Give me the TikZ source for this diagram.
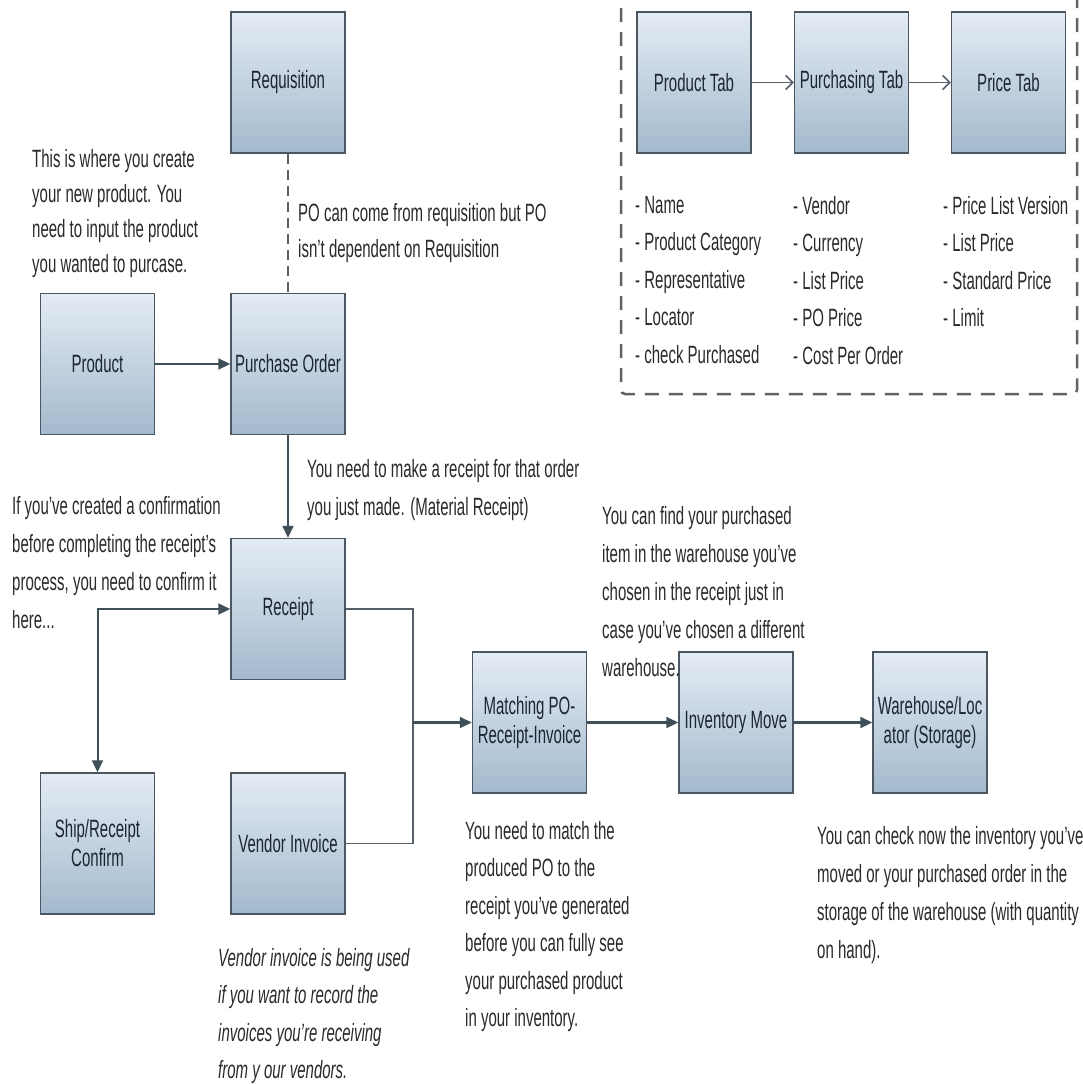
\documentclass[tikz,border=0pt]{standalone}
\usepackage{fontspec}
\setmainfont{Liberation Sans}[FakeStretch=0.6]
\usetikzlibrary{arrows.meta}

\definecolor{boxtop}{HTML}{E4ECF4}
\definecolor{boxbot}{HTML}{A3B9CD}
\definecolor{boxline}{HTML}{4B5660}
\definecolor{boxtext}{HTML}{1C2533}
\definecolor{notetext}{HTML}{2A2A2A}
\definecolor{arrowc}{HTML}{3E4F58}
\definecolor{thinc}{HTML}{55606A}
\definecolor{dashc}{HTML}{5E6468}

\tikzset{
  flowbox/.style={draw=boxline, line width=1.5pt, top color=boxtop, bottom color=boxbot,
    minimum width=114pt, minimum height=141pt, inner sep=0pt, align=center,
    text=boxtext, font=\fontsize{25}{29}\selectfont},
  note/.style={align=left, anchor=north west, inner sep=0pt, text=notetext,
    font=\fontsize{25}{37.5}\selectfont},
  tip/.style={Triangle[length=12pt,width=11pt]},
  flow/.style={draw=arrowc, line width=2.2pt, -{Triangle[length=12pt,width=11pt]}},
  twoway/.style={draw=arrowc, line width=2pt, {Triangle[length=12pt,width=11pt]}-{Triangle[length=12pt,width=11pt]}},
  joinline/.style={draw=thinc, line width=1.3pt},
  optline/.style={draw=thinc, line width=1.2pt, dash pattern=on 10pt off 6pt},
  tabarrow/.style={draw=thinc, line width=1.5pt, -{Straight Barb[length=7pt,width=14pt]}},
  groupframe/.style={draw=dashc, line width=2.5pt, dash pattern=on 14pt off 10pt, rounded corners=4pt},
}

\begin{document}
\begin{tikzpicture}[x=1pt, y=-1pt]
\useasboundingbox[fill=white] (0,0) rectangle (1083,1084);

% process boxes
\node[flowbox] (req)   at (288,82.5)   {Requisition};
\node[flowbox] (prod)  at (97.5,364)   {Product};
\node[flowbox] (po)    at (288,364)    {Purchase Order};
\node[flowbox] (rec)   at (288,609)    {Receipt};
\node[flowbox] (ship)  at (97.5,843.5) {Ship/Receipt\\Confirm};
\node[flowbox] (vend)  at (288,843.5)  {Vendor Invoice};
\node[flowbox] (match) at (529.5,722.5){Matching PO-\\Receipt-Invoice};
\node[flowbox] (inv)   at (736,722.5)  {Inventory Move};
\node[flowbox] (wh)    at (930,722.5)  {Warehouse/Loc\\ator (Storage)};

% product window tabs
\draw[groupframe] (621,-20) rectangle (1077,394);
\node[flowbox] (ptab)  at (694,82.5)    {Product Tab};
\node[flowbox] (purtab) at (851.5,82.5) {Purchasing Tab};
\node[flowbox] (prtab) at (1008.5,82.5) {Price Tab};
\draw[tabarrow] (ptab) -- (purtab);
\draw[tabarrow] (purtab) -- (prtab);

\node[note] (l1) at (635,196) {- Name\\- Product Category\\- Representative\\- Locator\\- check Purchased};
\node[note] (l2) at (793,196) {- Vendor\\- Currency\\- List Price\\- PO Price\\- Cost Per Order};
\node[note] (l3) at (943,196) {- Price List Version\\- List Price\\- Standard Price\\- Limit};

% connectors
\draw[optline] (req) -- (po);
\draw[flow] (prod) -- (po);
\draw[flow] (po) -- (rec);
\draw[twoway] (rec.west) -| (ship.north);
\coordinate (jtop) at (413,609);
\coordinate (jbot) at (413,843.5);
\draw[joinline] (rec.east) -- (jtop) -- (jbot) -- (vend.east);
\draw[flow] (jtop |- match.west) -- (match.west);
\draw[flow] (match) -- (inv);
\draw[flow] (inv) -- (wh);

% notes
\node[note, font=\fontsize{25}{35}\selectfont] (n1) at (32,149)
  {This is where you create\\your new product. You\\need to input the product\\you wanted to purcase.};
\node[note, font=\fontsize{25}{36}\selectfont] (n2) at (298,203)
  {PO can come from requisition but PO\\isn't dependent on Requisition};
\node[note, font=\fontsize{25}{38}\selectfont] (n3) at (307,459)
  {You need to make a receipt for that order\\you just made. (Material Receipt)};
\node[note, font=\fontsize{25}{38}\selectfont] (n4) at (12,496)
  {If you've created a confirmation\\before completing the receipt's\\process, you need to confirm it\\here...};
\node[note, font=\fontsize{25}{38}\selectfont] (n5) at (602,506)
  {You can find your purchased\\item in the warehouse you've\\chosen in the receipt just in\\case you've chosen a different\\warehouse.};
\node[note, font=\fontsize{25}{37.5}\selectfont\itshape] (n6) at (218,948)
  {Vendor invoice is being used\\if you want to record the\\invoices you're receiving\\from y our vendors.};
\node[note] (n7) at (465,821)
  {You need to match the\\produced PO to the\\receipt you've generated\\before you can fully see\\your purchased product\\in your inventory.};
\node[note, font=\fontsize{25}{38}\selectfont] (n8) at (817,826)
  {You can check now the inventory you've\\moved or your purchased order in the\\storage of the warehouse (with quantity\\on hand).};
\end{tikzpicture}
\end{document}
